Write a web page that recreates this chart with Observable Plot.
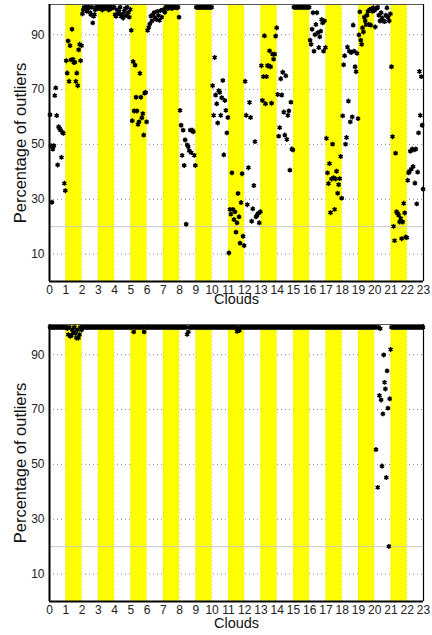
<!DOCTYPE html>
<html>
<head>
<meta charset="utf-8">
<script src="https://cdn.jsdelivr.net/npm/d3@7"></script>
<script src="https://cdn.jsdelivr.net/npm/@observablehq/plot@0.6"></script>
<style>
  html, body { margin: 0; padding: 0; background: #fff; }
  #chart { width: 432px; font-family: "Liberation Sans", Arial, sans-serif; }
  #chart svg { display: block; }
</style>
</head>
<body>
<div id="chart"></div>
<script>
// ---- data ----
const xTicks = [0,1,2,3,4,5,6,7,8,9,10,11,12,13,14,15,16,17,18,19,20,21,22,23];
const yTicks = [10,30,50,70,90];
const bandStarts = [1,3,5,7,9,11,13,15,17,19,21];
const refLine = [20];
const xLabel = "Clouds";
const yLabel = "Percentage of outliers";

// top panel: percentage of outliers for each sample, per cloud (in sample order)
const topClouds = [
  [60.8,49.5,28.9,48.3,49.5,67.8,70.6,60.5,42.5,56.4,55.8,55.2,45.3,54.5,54,35.8,33.1],
  [80.5,76,87.7,73,86,80.8,92,81,79.8,80,73,76,71.4,84.5,86.5,80.5,86],
  [97.6,99,100,99.5,100,98.5,100,99.8,100,98,97.3,100,94.3,96.7,97.3,99,100,100,99.5],
  [100,99.5,100,100,99,100,100,99.5,100,100,100,99,100,100,99.5,100,100,100],
  [97.3,96.7,99,97.6,98.5,100,96.7,97.3,96.1,98.5,99.5,97,100,98,96.4,99.2],
  [91.6,58.6,80.2,62.2,78.9,67.2,62.2,57.3,58.2,75.9,67.2,59.7,61.2,53.4,68.7,69,58.2],
  [91.6,92.7,93.9,96.8,95,97.3,98,96.1,95.5,98.5,97,95.2,98.8,96.4,99],
  [99,98.2,100,100,99.5,100,100,100,99.5,100,100,100,100,99.8,100,96.4],
  [62.4,57,46,55.2,42.3,51.6,20.9,49.8,49.2,47.7,55.2,47,55.2,54.6,46,42.3],
  [100,100,100,100,100,100,100,100,100,100,100,100,100,100,100,100],
  [71.4,60.6,81.7,68,64.8,57.8,69.6,69,60.6,67,73.3,46.2,66,62.4,54.2,59.8],
  [10.4,26.3,24.6,39.6,26.3,22.6,25.4,18,21.4,32.1,23.6,14,28.8,39.3,16.5,13.1],
  [73,60.6,28,41.5,65.3,59.8,22,26.5,35,51,23.6,24.2,24.8,21.4,25.4],
  [78.7,66,74.7,89.6,64.8,74.7,78.7,78.7,84.1,78.3,65,82.9,81.1,82.9,89.5,92.5],
  [68.2,53,56.1,73.9,68,76.3,61.8,53.4,75,51.8,60.6,62.2,40.6,65.4,48.3,48],
  [100,100,100,100,100,100,100,100,100,100,100,100,100,100,100,100],
  [88,86.5,92,98,84,90,93.7,98,90.7,85.3,89.2,91.3,95.5,94.3,84,95,85.3],
  [52.2,39.6,35.7,43,25.1,37.4,50.1,37.8,26.3,37.4,40.2,32.2,35.3,37.5,45.6,30.4],
  [60.4,79,82.3,50.1,52.5,85.5,65.8,84,58.2,83.5,60,93.5,84,78.3,76.5,83.2,59.4],
  [89.9,98.3,88,86.5,92.5,91,96.4,95,93.7,97.1,98.5,93.7,99.2,93.5,99.5,98.5,99.8,98.8],
  [92.8,99.5,100,97.1,95,98,96.1,95,94.8,97.1,99.8,96.4,95,97.6],
  [78.3,52.8,20.1,14.9,46.8,25.4,24.8,24.2,21.7,23,15.6,21.7,28.5,25,16.2,16],
  [36.9,39.6,40.2,47.5,41,48.3,41.9,48,35.9,48.3,28.3,39.9,54.2,76.6,60.6,74.7,57,33.7]
];

// bottom panel
const bottomClouds = [
  [100,100,100,100,100,100,100,100,100,100,100,100,100,100],
  [100,99.5,97.3,100,96.7,97,99,98.2,100,97.8,96.1,99,96.1,97.3,100,99],
  [100,100,100,100,100,100,100,100,100,100,100,100,100,100],
  [100,100,100,100,100,100,100,100,100,100,100,100,100,100],
  [100,100,100,100,100,100,100,100,100,100,100,100,100,100],
  [100,100,98.3,100,100,100,100,100,100,100,100,98.3,100,100],
  [100,100,100,100,100,100,100,100,100,100,100,100,100,100],
  [100,100,100,100,100,100,100,100,100,100,100,100,100,100],
  [100,100,100,100,100,100,97.4,98.3,100,100,100,100,100,100],
  [100,100,100,100,100,100,100,100,100,100,100,100,100,100],
  [100,100,100,100,100,100,100,100,100,100,100,100,100,100],
  [100,100,100,100,100,100,100,98.5,100,98.8,100,100,100,100],
  [100,100,100,100,100,100,100,100,100,100,100,100,100,100],
  [100,100,100,100,100,100,100,100,100,100,100,100,100,100],
  [100,100,100,100,100,100,100,100,100,100,100,100,100,100],
  [100,100,100,100,100,100,100,100,100,100,100,100,100,100],
  [100,100,100,100,100,100,100,100,100,100,100,100,100,100],
  [100,100,100,100,100,100,100,100,100,100,100,100,100,100],
  [100,100,100,100,100,100,100,100,100,100,100,100,100,100],
  [100,100,100,100,100,100,100,100,100,100,100,100,100,100],
  [100,55.4,100,41.6,100,75.1,99.5,73.5,49.4,68.4,89.9,79.9,77.5,45.2,84.1,70.5,20.1,73.9,91.9],
  [100,100,100,100,100,100,100,100,100,100,100,100,100,100],
  [100,100,100,100,100,100,100,100,100,100,100,100,100,100]
];

// each sample is placed inside its cloud's unit interval, in sample order
function toPoints(clouds) {
  return clouds.flatMap((vals, k) =>
    vals.map((v, i) => ({cloud: k, x: k + (i + 0.5) / vals.length, y: v})));
}

function panel(clouds, marginTop, marginBottom, xLabelDy) {
  const height = marginTop + 277 + marginBottom;
  const pts = toPoints(clouds);
  return Plot.plot({
    width: 432,
    height,
    marginLeft: 49,
    marginRight: 9,
    marginTop,
    marginBottom,
    style: {fontSize: "12px", fontFamily: "'Liberation Sans', Arial, sans-serif", color: "#222", background: "#fff"},
    x: {domain: [0, 23]},
    y: {domain: [0, 101]},
    marks: [
      Plot.ruleY(yTicks, {stroke: "#8a8a8a", strokeDasharray: "1,3", strokeWidth: 1}),
      Plot.rect(bandStarts, {x1: d => d, x2: d => d + 1, fill: "#ffff00"}),
      Plot.ruleX(xTicks.slice(1, -1), {stroke: "#9a9a6a", strokeOpacity: 0.35, strokeDasharray: "1,3"}),
      Plot.ruleY(refLine, {stroke: "#c8c8c8", strokeWidth: 1}),
      Plot.dot(pts, {x: "x", y: "y", r: 1.5, fill: "#000", stroke: null}),
      Plot.dot(pts, {x: "x", y: "y", symbol: "asterisk", r: 2.3, stroke: "#000", strokeWidth: 1.5}),
      Plot.ruleY([101], {stroke: "#555", strokeWidth: 1}),
      Plot.ruleX([23], {stroke: "#000", strokeWidth: 1.2}),
      Plot.ruleX([0], {stroke: "#000", strokeWidth: 2}),
      Plot.ruleY([0], {stroke: "#000", strokeWidth: 2}),
      Plot.axisX({ticks: xTicks, tickSize: 0, tickPadding: 4, label: null, tickFormat: d => String(d)}),
      Plot.axisY({ticks: yTicks, tickSize: 0, tickPadding: 5, label: null}),
      Plot.text([xLabel], {frameAnchor: "bottom", dy: xLabelDy, fontSize: 14.5, fill: "#111"}),
      Plot.text([yLabel], {frameAnchor: "left", textAnchor: "middle", dx: -29, rotate: -90, fontSize: 16.5, fill: "#111"})
    ]
  });
}

const chart = document.getElementById("chart");
chart.appendChild(panel(topClouds, 4, 37, 22));
chart.appendChild(panel(bottomClouds, 6, 34, 26));
</script>
</body>
</html>
